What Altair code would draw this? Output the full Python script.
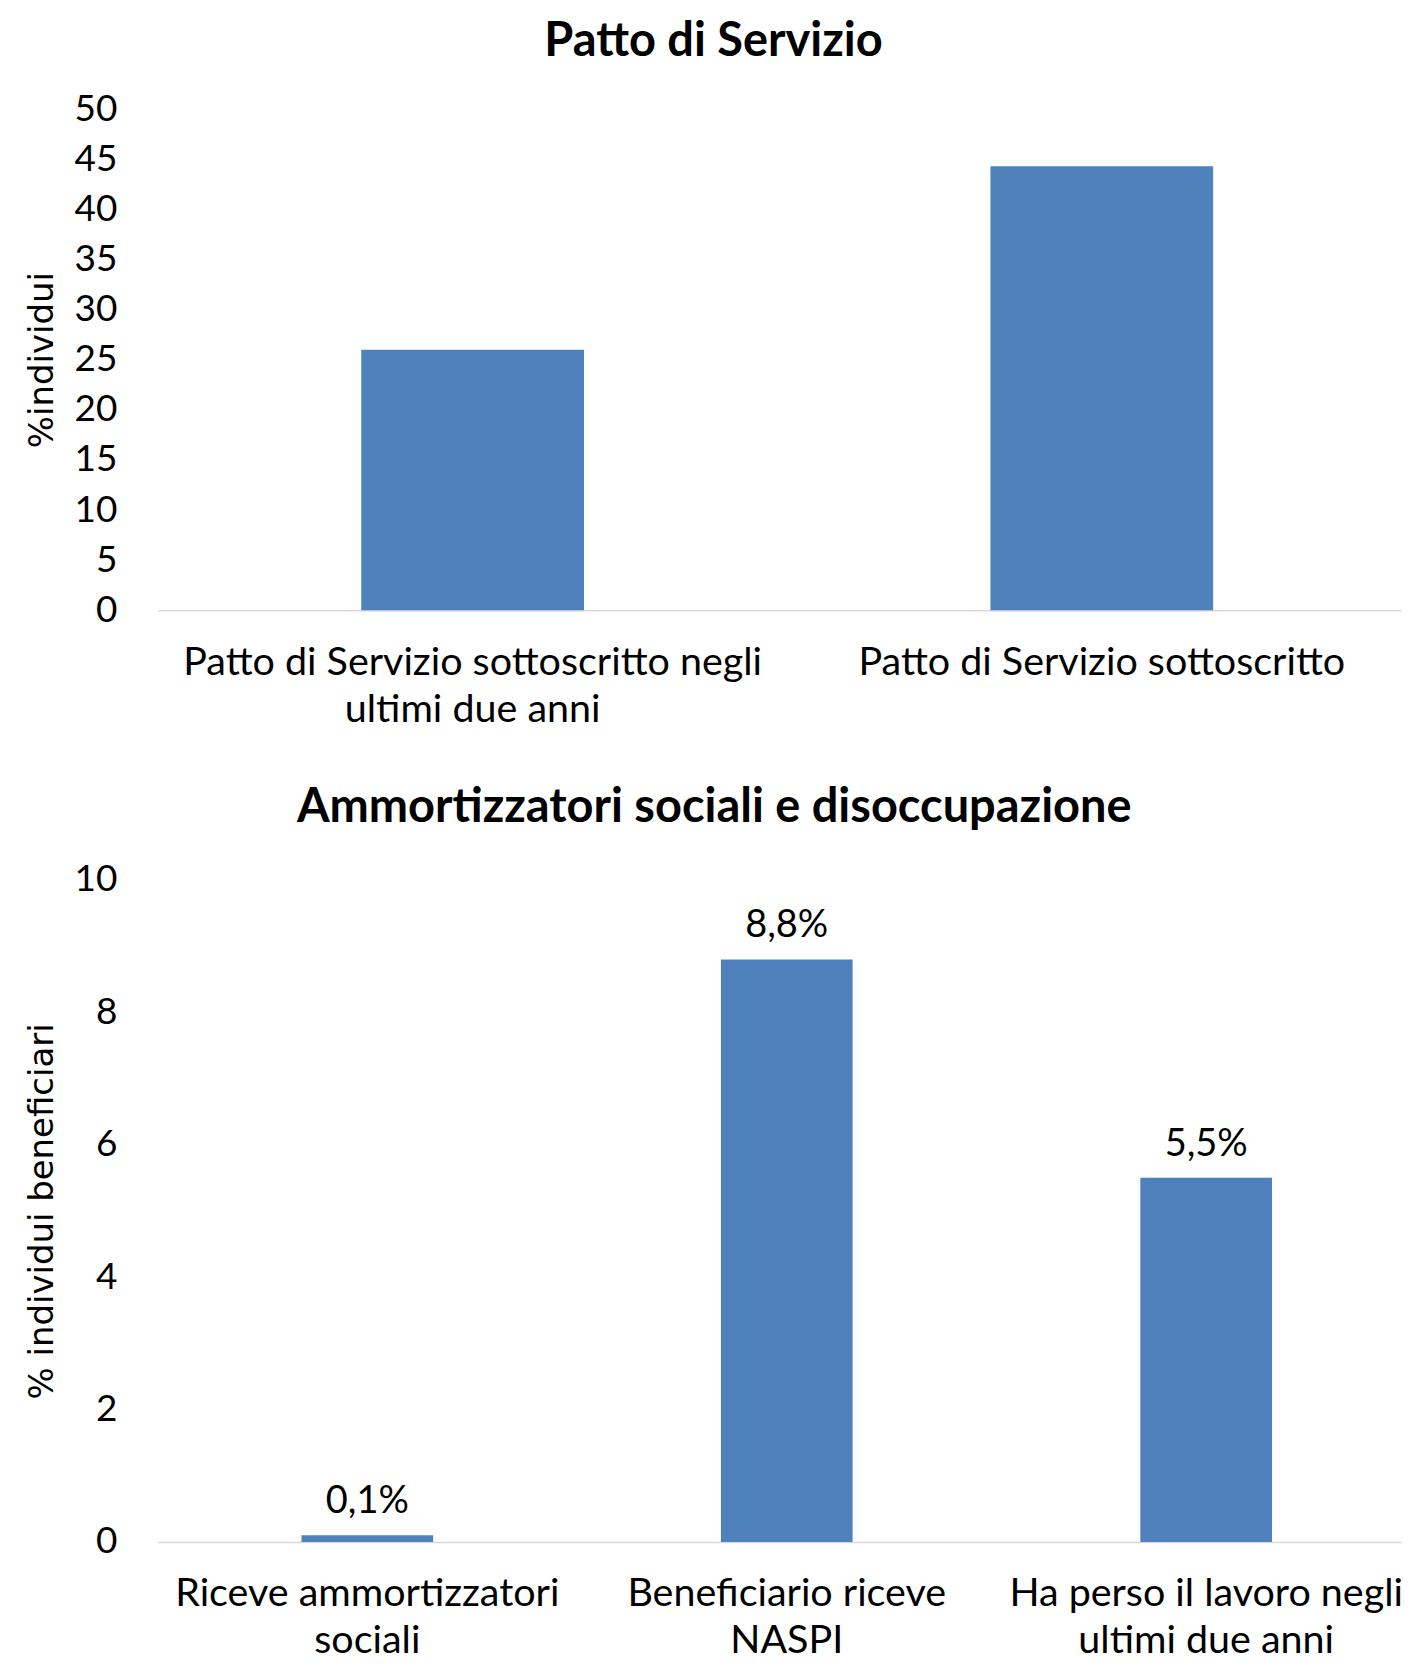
import altair as alt
import pandas as pd

# ---- data ----
top_categories = ["Patto di Servizio sottoscritto negli\nultimi due anni", "Patto di Servizio sottoscritto"]
top_values = [26.0, 44.3]
top_ticks = [0, 5, 10, 15, 20, 25, 30, 35, 40, 45, 50]

bottom_categories = ["Riceve ammortizzatori\nsociali", "Beneficiario riceve\nNASPI", "Ha perso il lavoro negli\nultimi due anni"]
bottom_values = [0.1, 8.8, 5.5]
bottom_labels = ["0,1%", "8,8%", "5,5%"]
bottom_ticks = [0, 2, 4, 6, 8, 10]

BLUE = "#4F81BD"
FONT = "Lato"
AX_TITLE_FONT = "DejaVu Sans"
PLOT_W = 1245
TOP_H = 502
BOT_H = 663
TICK_FS = 37
XLAB_FS = 39.5
TITLE_FS = 47

top_df = pd.DataFrame({"cat": top_categories, "val": top_values})
bot_df = pd.DataFrame({"cat": bottom_categories, "val": bottom_values, "lab": bottom_labels})


def x_axis():
    return alt.Axis(title=None, labelAngle=0, ticks=False, domainColor="#d9d9d9", domainWidth=1.5,
                    labelFont=FONT, labelFontSize=XLAB_FS, labelColor="black", labelLimit=0,
                    labelLineHeight=47, labelPadding=33, labelExpr="split(datum.label, '\\n')")


def y_axis(title, ticks, h):
    return alt.Axis(title=title, values=ticks, format="d", grid=False, domain=False, ticks=False,
                    labelFont=FONT, labelFontSize=TICK_FS, labelColor="black", labelPadding=41,
                    titleFont=AX_TITLE_FONT, titleFontSize=34, titleFontWeight="normal",
                    titleColor="black", titleAngle=270, titleAlign="center", titleBaseline="middle",
                    titleX=-115, titleY=h / 2)


top = alt.Chart(top_df).mark_bar(color=BLUE).encode(
    x=alt.X("cat:N", sort=top_categories, axis=x_axis(),
            scale=alt.Scale(paddingInner=0.646, paddingOuter=0.311, align=0.52)),
    y=alt.Y("val:Q", scale=alt.Scale(domain=[0, 50], nice=False),
            axis=y_axis("%individui", top_ticks, TOP_H)),
).properties(
    width=PLOT_W, height=TOP_H,
    title=alt.Title("Patto di Servizio", font=FONT, fontSize=TITLE_FS, fontWeight="bold", color="black",
                    anchor="middle", frame="bounds", offset=24),
)

bscale = alt.Scale(paddingInner=0.686, paddingOuter=0.325, align=0.527)
bx = alt.X("cat:N", sort=bottom_categories, axis=x_axis(), scale=bscale)
by = alt.Y("val:Q", scale=alt.Scale(domain=[0, 10], nice=False),
           axis=y_axis("% individui beneficiari", bottom_ticks, BOT_H))

bot_bars = alt.Chart(bot_df).mark_bar(color=BLUE).encode(x=bx, y=by)
bot_text = alt.Chart(bot_df).mark_text(font=FONT, fontSize=38, color="black", dy=-33,
                                       baseline="middle").encode(
    x=alt.X("cat:N", sort=bottom_categories, scale=bscale), y="val:Q", text="lab:N")

bottom = alt.layer(bot_bars, bot_text).properties(
    width=PLOT_W, height=BOT_H,
    title=alt.Title("Ammortizzatori sociali e disoccupazione", font=FONT, fontSize=TITLE_FS,
                    fontWeight="bold", color="black", anchor="middle", frame="bounds", offset=29),
)

chart = alt.vconcat(top, bottom, spacing=55).properties(
    padding={"left": 18, "top": 9, "right": 0, "bottom": 0}
).configure_view(stroke=None)

chart.save("out.html", embed_options={"renderer": "svg", "actions": False})
